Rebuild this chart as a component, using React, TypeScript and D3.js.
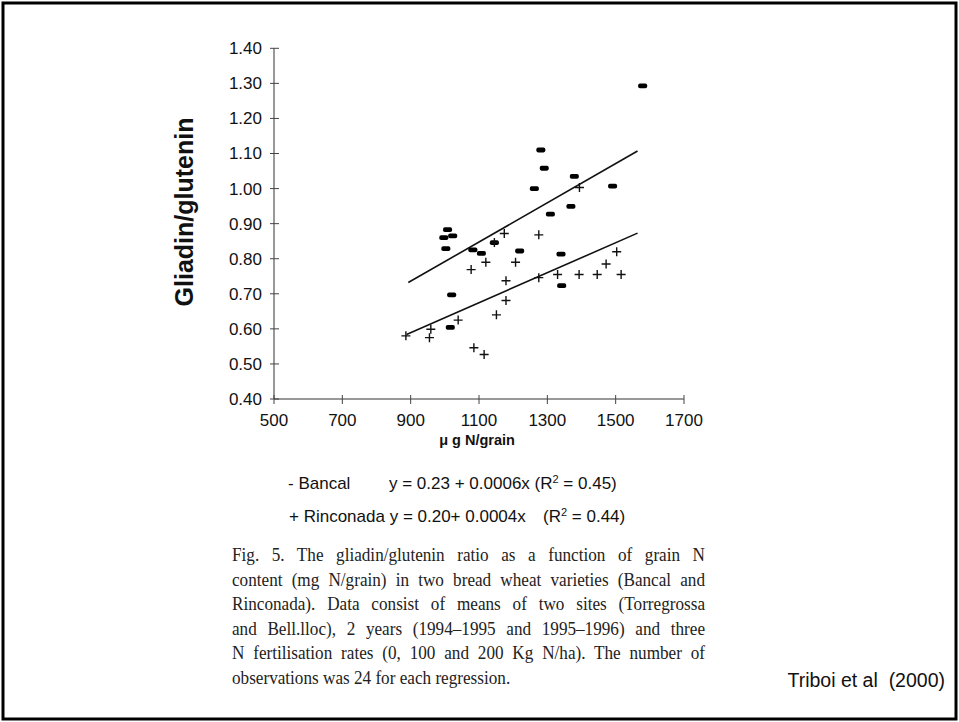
import React, { useLayoutEffect, useRef } from "react";
import * as d3 from "d3";

const xTicks = [500, 700, 900, 1100, 1300, 1500, 1700];
const yTicks = [0.4, 0.5, 0.6, 0.7, 0.8, 0.9, 1.0, 1.1, 1.2, 1.3, 1.4];

const bancalX = [1579, 1281, 1291, 1379, 1262, 1491, 1369, 1309, 1008, 997, 1023, 1003, 1145, 1082, 1107, 1219, 1340, 1342, 1020, 1016];
const bancalY = [1.293, 1.11, 1.058, 1.035, 1.0, 1.007, 0.949, 0.927, 0.883, 0.86, 0.865, 0.829, 0.846, 0.825, 0.815, 0.822, 0.813, 0.723, 0.697, 0.604];

const rincX = [1394, 1174, 1275, 1503, 1120, 1207, 1077, 1472, 1330, 1393, 1446, 1516, 1275, 1179, 1179, 1151, 1039, 886, 955, 959, 1085, 1115, 1145];
const rincY = [1.003, 0.872, 0.868, 0.82, 0.79, 0.79, 0.769, 0.785, 0.755, 0.755, 0.755, 0.755, 0.746, 0.737, 0.681, 0.64, 0.625, 0.58, 0.575, 0.599, 0.546, 0.527, 0.846];

const bancalFitX = [893, 1564];
const bancalFitY = [0.732, 1.107];
const rincFitX = [888, 1564];
const rincFitY = [0.584, 0.873];

const captionLines = [
  "Fig. 5. The gliadin/glutenin ratio as a function of grain N",
  "content (mg N/grain) in two bread wheat varieties (Bancal and",
  "Rinconada). Data consist of means of two sites (Torregrossa",
  "and Bell.lloc), 2 years (1994\u20131995 and 1995\u20131996) and three",
  "N fertilisation rates (0, 100 and 200 Kg N/ha). The number of",
  "observations was 24 for each regression.",
];

export default function App() {
  const W = 959, H = 722;
  const x = d3.scaleLinear().domain([500, 1700]).range([274, 684]);
  const y = d3.scaleLinear().domain([0.4, 1.4]).range([399, 48.3]);
  const line = d3.line<[number, number]>().x((d) => x(d[0])).y((d) => y(d[1]));
  const capRefs = useRef<(SVGTextElement | null)[]>([]);
  const capLeft = 232, capRight = 705, capScale = 0.88;

  useLayoutEffect(() => {
    capRefs.current.forEach((el, i) => {
      if (!el || i === captionLines.length - 1) return;
      el.setAttribute("word-spacing", "0");
      const w = el.getComputedTextLength();
      const spaces = (captionLines[i].match(/ /g) || []).length;
      const extra = ((capRight - capLeft) / capScale - w) / spaces;
      el.setAttribute("word-spacing", String(extra));
    });
  }, []);

  const bancal = bancalX.map((v, i) => [v, bancalY[i]]);
  const rinc = rincX.map((v, i) => [v, rincY[i]]);
  const fitB = bancalFitX.map((v, i) => [v, bancalFitY[i]] as [number, number]);
  const fitR = rincFitX.map((v, i) => [v, rincFitY[i]] as [number, number]);
  const fmt = d3.format(".2f");

  return (
    <svg width={W} height={H} style={{ position: "absolute", left: 0, top: 0, background: "#fff" }}>
      <rect x={0} y={0} width={W} height={H} fill="#fff" />
      <rect x={3} y={3} width={953} height={716} fill="none" stroke="#000" strokeWidth={3} />
      <g fontFamily="Arial, 'Liberation Sans', sans-serif" fill="#111">
        <line x1={x(500)} x2={x(500)} y1={y(0.4)} y2={y(1.4)} stroke="#333" strokeWidth={1} />
        <line x1={x(500)} x2={x(1700)} y1={y(0.4)} y2={y(0.4)} stroke="#333" strokeWidth={1} />
        {yTicks.map((t) => (
          <g key={"y" + t}>
            <line x1={x(500) - 4} x2={x(500) + 5} y1={y(t)} y2={y(t)} stroke="#444" strokeWidth={1} />
            <text x={262} y={y(t)} dy="0.35em" textAnchor="end" fontSize={17}>{fmt(t)}</text>
          </g>
        ))}
        {xTicks.map((t) => (
          <g key={"x" + t}>
            <line x1={x(t)} x2={x(t)} y1={y(0.4) - 4} y2={y(0.4) + 5} stroke="#444" strokeWidth={1} />
            <text x={x(t)} y={426} textAnchor="middle" fontSize={17}>{t}</text>
          </g>
        ))}
        <text x={477} y={445} textAnchor="middle" fontSize={14.5} fontWeight="bold">μ g N/grain</text>
        <text transform="translate(193,212) rotate(-90)" textAnchor="middle" fontSize={25} fontWeight="bold">Gliadin/glutenin</text>

        <path d={line(fitB) || ""} fill="none" stroke="#111" strokeWidth={1.6} />
        <path d={line(fitR) || ""} fill="none" stroke="#111" strokeWidth={1.6} />

        {bancal.map((d, i) => (
          <rect key={"b" + i} x={x(d[0]) - 4.5} y={y(d[1]) - 2.4} width={9} height={4.8} rx={1.8} fill="#000" />
        ))}
        {rinc.map((d, i) => (
          <path key={"r" + i} d={`M${x(d[0]) - 4.5},${y(d[1])}h9M${x(d[0])},${y(d[1]) - 4.5}v9`} stroke="#111" strokeWidth={1.4} fill="none" />
        ))}

        <text x={288} y={489} fontSize={17}>- Bancal</text>
        <text x={389} y={489} fontSize={17}>y = 0.23 + 0.0006x (R<tspan dy={-6} fontSize={11}>2</tspan><tspan dy={6}> = 0.45)</tspan></text>
        <text x={289} y={522} fontSize={17}>+ Rinconada y = 0.20+ 0.0004x</text>
        <text x={543} y={522} fontSize={17}>(R<tspan dy={-6} fontSize={11}>2</tspan><tspan dy={6}> = 0.44)</tspan></text>

        <text x={945} y={687} textAnchor="end" fontSize={19.5} style={{ whiteSpace: "pre" }}>Triboi et al  (2000)</text>
      </g>
      <g transform={`translate(${capLeft},0) scale(${capScale},1)`} fontFamily="'Liberation Serif', 'Times New Roman', serif" fill="#222" fontSize={19.5}>
        {captionLines.map((s, i) => (
          <text key={"c" + i} ref={(el) => { capRefs.current[i] = el; }} x={0} y={561 + i * 24.6} style={{ whiteSpace: "pre" }}>{s}</text>
        ))}
      </g>
    </svg>
  );
}
